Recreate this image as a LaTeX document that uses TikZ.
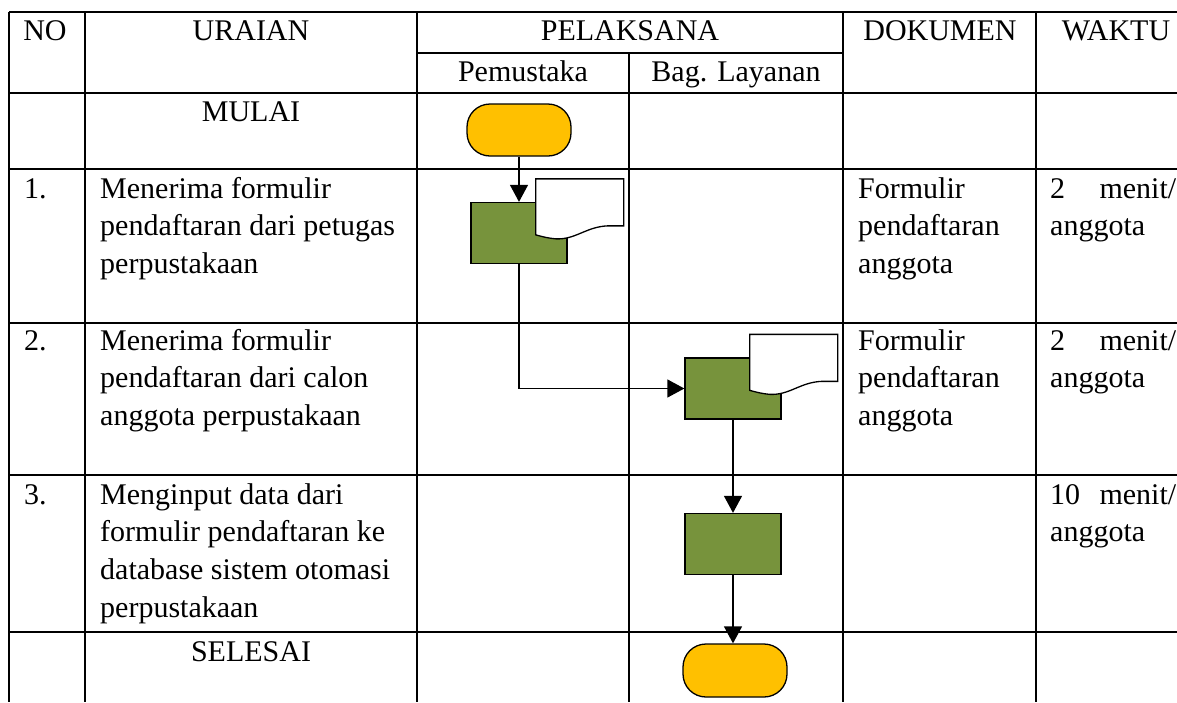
\documentclass[tikz,border=0pt]{standalone}
\usepackage{fontspec}
\setmainfont{Liberation Serif}
\usetikzlibrary{arrows.meta,calc}
\definecolor{termyellow}{HTML}{FFC000}
\definecolor{procgreen}{HTML}{77933C}

% document sheet laid over the top right corner of a process box
\newcommand{\docsheet}[1]{%
  \begin{scope}[shift={($(#1.north east)+(-32,-23)$)}]
    \draw[sheet] (0,0) -- (88,0) -- (88,47) -- (72,47)
      .. controls (50,48) and (40,61) .. (20,60)
      .. controls (10,59) and (4,57) .. (0,56) -- cycle;
  \end{scope}}

\begin{document}
\begin{tikzpicture}[
    x=1pt, y=-1pt,
    >={Triangle[width=18pt,length=17pt]},
    grid/.style={line width=1.2pt},
    cell/.style={anchor=base west, inner sep=0pt, align=left,
        font=\fontsize{30}{37.7}\selectfont},
    head/.style={anchor=base, inner sep=0pt,
        font=\fontsize{30}{37.7}\selectfont},
    terminal/.style={draw, line width=1.3pt, fill=termyellow,
        rounded corners=23pt, minimum width=104pt, minimum height=52pt,
        inner sep=0pt},
    process/.style={draw, line width=1.3pt, fill=procgreen,
        minimum width=96pt, minimum height=61pt, inner sep=0pt},
    sheet/.style={draw, line width=1.3pt, fill=white},
    flow/.style={->, line width=1.3pt}
]
\useasboundingbox (0,0) rectangle (1177,702);

% table grid
\foreach \y in {12,93,169,323,475,632}
  \draw[grid] (9,\y) -- (1177,\y);
\draw[grid] (417,53) -- (843,53);
\foreach \x in {9,85,417,843,1036}
  \draw[grid] (\x,12) -- (\x,702);
\draw[grid] (629,53) -- (629,702);

% header
\node[head] (NO) at (45,40) {NO};
\node[head] (UR) at (251,40) {URAIAN};
\node[head] (PL) at (630,40) {PELAKSANA};
\node[head] (DK) at (940,40) {DOKUMEN};
\node[head] (WK) at (1116,40) {WAKTU};
\node[head] (PM) at (523,81) {Pemustaka};
\node[head] (BL) at (736,81) {Bag. Layanan};

% rows (a cell sits on the baseline of its last line)
\node[head] (MU) at (251,121) {MULAI};
\node[cell] (N1) at (24,198) {1.};
\node[cell] (U1) at (100,273.4) {Menerima formulir\\pendaftaran dari petugas\\perpustakaan};
\node[cell] (D1) at (858,273.4) {Formulir\\pendaftaran\\anggota};
\node[cell] (W1) at (1050,235.7) {\hbox to 126pt{2\hfil menit/}\\anggota};
\node[cell] (N2) at (24,350) {2.};
\node[cell] (U2) at (100,425.4) {Menerima formulir\\pendaftaran dari calon\\anggota perpustakaan};
\node[cell] (D2) at (858,425.4) {Formulir\\pendaftaran\\anggota};
\node[cell] (W2) at (1050,387.7) {\hbox to 126pt{2\hfil menit/}\\anggota};
\node[cell] (N3) at (24,504) {3.};
\node[cell] (U3) at (100,617.1) {Menginput data dari\\formulir pendaftaran ke\\database sistem otomasi\\perpustakaan};
\node[cell] (W3) at (1050,541.7) {\hbox to 126pt{10\hfil menit/}\\anggota};
\node[head] (SE) at (251,661) {SELESAI};

% flow
\node[terminal] (S) at (519,130) {};
\node[process] (P1) at (519,233) {};
\node[process] (P2) at (733,388.5) {};
\node[process] (P3) at (733,544) {};
\node[terminal, minimum height=53pt] (E) at (735,670.5) {};
\draw[flow] (S) -- (P1);
\draw[flow] (P1) |- (P2);
\draw[flow] (P2) -- (P3);
\draw[flow] (P3) -- (P3 |- E.north);
\docsheet{P1}
\docsheet{P2}
\end{tikzpicture}
\end{document}
